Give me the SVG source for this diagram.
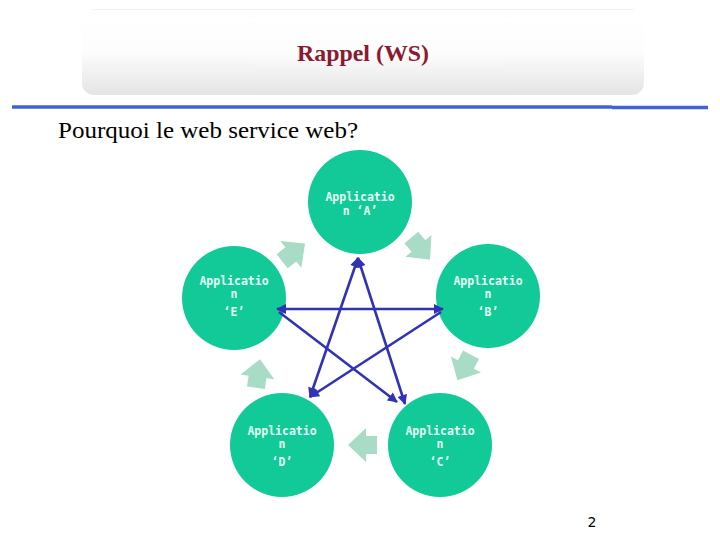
<svg xmlns="http://www.w3.org/2000/svg" width="720" height="540" viewBox="0 0 720 540">
<defs>
<linearGradient id="hdr" x1="0" y1="0" x2="0" y2="1">
<stop offset="0" stop-color="#ffffff"/>
<stop offset="0.5" stop-color="#fdfdfd"/>
<stop offset="1" stop-color="#e4e4e4"/>
</linearGradient>
<marker id="ah" viewBox="0 0 10 10" refX="9" refY="5" markerWidth="11" markerHeight="10" markerUnits="userSpaceOnUse" orient="auto-start-reverse">
<path d="M0,0 L10,5 L0,10 z" fill="#3232b4"/>
</marker>
<polygon id="blk" points="-15,-9 -4,-9 -4,-17 14,0 -4,17 -4,9 -15,9"/>
</defs>
<style>
.node circle{fill:#12c998;}
.node text{font-family:"DejaVu Sans Mono","Liberation Mono",monospace;font-size:11.5px;font-weight:bold;fill:#e6fff6;text-anchor:middle;letter-spacing:0px;}
.flow use{fill:#a9dcc6;}
.links line{stroke:#3232b4;stroke-width:2.6;marker-end:url(#ah);}
.links line.b{marker-start:url(#ah);}
</style>
<rect width="720" height="540" fill="#ffffff"/>
<g id="header">
<rect x="82" y="9" width="562" height="86" rx="12" fill="url(#hdr)"/>
<line x1="92" y1="9.5" x2="634" y2="9.5" stroke="#f2f2f2" stroke-width="1"/>
<text x="363" y="61" font-family="Liberation Serif,serif" font-size="23" font-weight="bold" fill="#8a1a30" text-anchor="middle" textLength="132" lengthAdjust="spacingAndGlyphs">Rappel (WS)</text>
<line x1="12" y1="107" x2="612" y2="107" stroke="#3f63d4" stroke-width="3.5"/>
<line x1="612" y1="107.5" x2="708" y2="107.5" stroke="#3f63d4" stroke-width="3.5"/>
</g>
<text x="58" y="138" font-family="Liberation Serif,serif" font-size="24" fill="#000000" textLength="300" lengthAdjust="spacingAndGlyphs">Pourquoi le web service web?</text>
<g class="flow" id="cycle">
<use href="#blk" transform="translate(421,249) rotate(50)"/>
<use href="#blk" transform="translate(464,368) rotate(118)"/>
<use href="#blk" transform="translate(362,445) rotate(180)"/>
<use href="#blk" transform="translate(258,373) rotate(-82)"/>
<use href="#blk" transform="translate(294,252) rotate(-38)"/>
</g>
<g id="nodeA" class="node"><circle cx="360" cy="202" r="52"/><text x="360" y="201">Applicatio</text><text x="360" y="215">n ‘A’</text></g>
<g id="nodeB" class="node"><circle cx="488" cy="296" r="52"/><text x="488" y="285">Applicatio</text><text x="488" y="298">n</text><text x="488" y="316">‘B’</text></g>
<g id="nodeC" class="node"><circle cx="440" cy="445" r="52"/><text x="440" y="435">Applicatio</text><text x="440" y="448">n</text><text x="440" y="466">‘C’</text></g>
<g id="nodeD" class="node"><circle cx="282" cy="445" r="52"/><text x="282" y="435">Applicatio</text><text x="282" y="448">n</text><text x="282" y="466">‘D’</text></g>
<g id="nodeE" class="node"><circle cx="234" cy="298" r="52"/><text x="234" y="285">Applicatio</text><text x="234" y="298">n</text><text x="234" y="316">‘E’</text></g>
<g class="links" id="connectors">
<line class="b" x1="358" y1="258" x2="310" y2="397"/>
<line class="b" x1="358" y1="258" x2="405" y2="404"/>
<line class="b" x1="277" y1="309" x2="443" y2="309"/>
<line x1="279" y1="312" x2="397" y2="402"/>
<line x1="441" y1="312" x2="310" y2="397"/>
</g>
<text x="592" y="527" font-family="DejaVu Sans,sans-serif" font-size="14" fill="#000000" text-anchor="middle">2</text>
</svg>
